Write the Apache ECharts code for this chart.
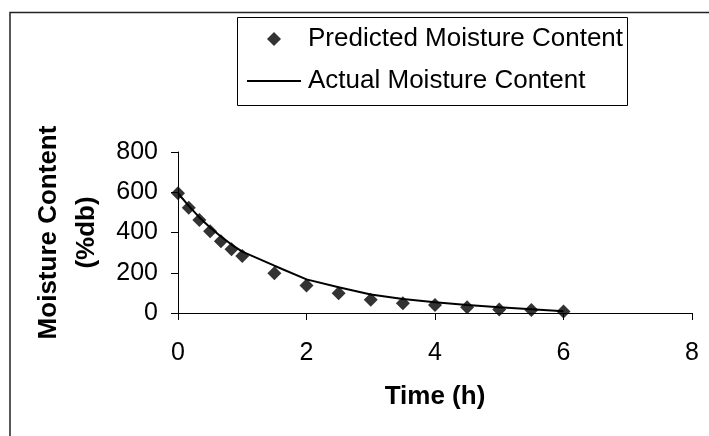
<!DOCTYPE html>
<html>
<head>
<meta charset="utf-8">
<script src="https://cdn.jsdelivr.net/npm/echarts@6/dist/echarts.min.js"></script>
<style>
  html, body { margin: 0; padding: 0; background: #fff; }
  #chart { width: 709px; height: 436px; }
</style>
</head>
<body>
<div id="chart"></div>
<script>
// time in hours (10 min steps for the first hour)
const timeH = [0, 0.167, 0.333, 0.5, 0.667, 0.833, 1, 1.5, 2, 2.5, 3, 3.5, 4, 4.5, 5, 5.5, 6]
const predicted = [595, 523, 462, 406, 356, 317, 283, 197, 137, 98, 66, 48, 40, 28, 18, 15, 7]
const actual = [595, 532, 475, 425, 380, 340, 305, 235, 167, 128, 92, 70, 53, 40, 29, 19, 9]

const FONT = '"Liberation Sans", Arial, sans-serif'

const chart = echarts.init(document.getElementById('chart'))

chart.setOption({
  animation: false,
  backgroundColor: '#fff',
  grid: { left: 178, right: 17, top: 152, bottom: 123, containLabel: false },
  legend: {
    orient: 'vertical',
    left: 247,
    top: 26,
    itemWidth: 54,
    itemHeight: 14,
    itemGap: 16,
    padding: 0,
    symbolKeepAspect: true,
    textStyle: { fontFamily: FONT, fontSize: 26, color: '#000', padding: [0, 0, 0, 2] },
    data: [
      { name: 'Predicted Moisture Content', icon: 'path://M0,-1L1,0L0,1L-1,0Z' },
      { name: 'Actual Moisture Content', icon: 'path://M0,0H54V2H0Z' }
    ]
  },
  xAxis: {
    type: 'value',
    min: 0,
    max: 8,
    interval: 2,
    name: 'Time (h)',
    nameLocation: 'middle',
    nameGap: 71,
    nameTextStyle: { fontFamily: FONT, fontSize: 26, fontWeight: 'bold', color: '#000' },
    axisLine: { lineStyle: { color: '#000', width: 1 } },
    axisTick: { inside: false, length: 7, lineStyle: { color: '#000' } },
    axisLabel: { fontFamily: FONT, fontSize: 25, color: '#000', margin: 28 },
    splitLine: { show: false }
  },
  yAxis: {
    type: 'value',
    min: 0,
    max: 800,
    interval: 200,
    name: 'Moisture Content\n(%db)',
    nameLocation: 'middle',
    nameRotate: 90,
    nameGap: 51,
    nameTextStyle: { fontFamily: FONT, fontSize: 26, fontWeight: 'bold', color: '#000', lineHeight: 38 },
    axisLine: { show: true, lineStyle: { color: '#000', width: 1 } },
    axisTick: { show: true, inside: false, length: 7, lineStyle: { color: '#000' } },
    axisLabel: { fontFamily: FONT, fontSize: 25, color: '#000', margin: 20 },
    splitLine: { show: false }
  },
  series: [
    {
      name: 'Predicted Moisture Content',
      type: 'scatter',
      symbol: 'diamond',
      symbolSize: 14,
      itemStyle: { color: '#000' },
      data: timeH.map((t, i) => [t, predicted[i]]),
      z: 3
    },
    {
      name: 'Actual Moisture Content',
      type: 'line',
      symbol: 'none',
      lineStyle: { color: '#000', width: 2 },
      itemStyle: { color: '#000' },
      data: timeH.map((t, i) => [t, actual[i]]),
      z: 2
    }
  ],
  graphic: [
    {
      type: 'polyline',
      shape: { points: [[10, 436], [10, 12.5], [709, 12.5]] },
      style: { stroke: '#222', lineWidth: 1.5, fill: null },
      silent: true
    },
    {
      type: 'rect',
      shape: { x: 237.5, y: 17.5, width: 390, height: 88 },
      style: { stroke: '#000', lineWidth: 1, fill: null },
      silent: true
    }
  ]
})
</script>
</body>
</html>
